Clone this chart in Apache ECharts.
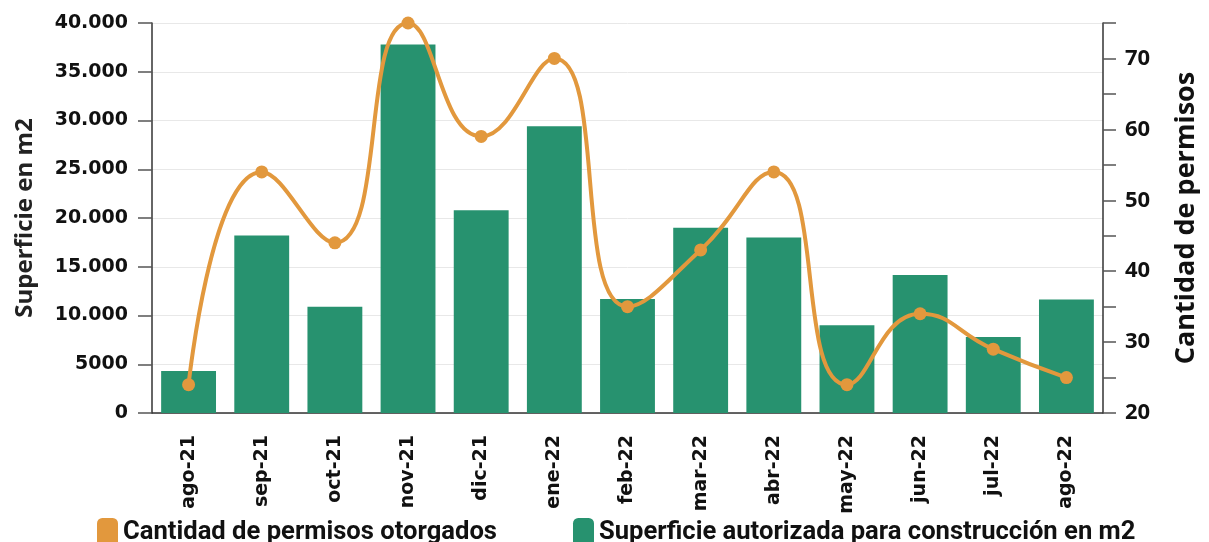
<!DOCTYPE html>
<html>
<head>
<meta charset="utf-8">
<script src="https://cdn.jsdelivr.net/npm/echarts@6/dist/echarts.min.js"></script>
<style>
html,body{margin:0;padding:0;background:#fff;}
#chart{width:1209px;height:542px;}
</style>
</head>
<body>
<div id="chart"></div>
<script>
const categories = ['ago-21','sep-21','oct-21','nov-21','dic-21','ene-22','feb-22','mar-22','abr-22','may-22','jun-22','jul-22','ago-22'];
const superficie = [4300, 18200, 10900, 37800, 20800, 29400, 11700, 19000, 18000, 9000, 14150, 7800, 11650];
const permisos = [24, 54, 44, 75, 59, 70, 35, 43, 54, 24, 34, 29, 25];
const seriesNames = ['Cantidad de permisos otorgados', 'Superficie autorizada para construcción en m2'];
const axisNames = ['Superficie en m2', 'Cantidad de permisos'];

const chart = echarts.init(document.getElementById('chart'), null, {renderer: 'canvas'});
const fmtLeft = v => v >= 10000 ? String(v).replace(/\B(?=(\d{3})+(?!\d))/g, '.') : String(v);

chart.setOption({
  animation: false,
  grid: {left: 152, right: 106, top: 23, bottom: 129, containLabel: false},
  legend: {
    top: 513, left: 92,
    itemGap: 76, itemTextGap: 9,
    itemWidth: 21, itemHeight: 30,
    icon: 'roundRect',
    textStyle: {fontFamily: 'Roboto', fontWeight: 'bold', fontSize: 25.6, color: '#111'},
    data: seriesNames
  },
  xAxis: {
    type: 'category',
    data: categories,
    axisLine: {lineStyle: {color: '#333', width: 1.5}},
    axisTick: {alignWithLabel: true, length: 12, lineStyle: {color: '#555', width: 1.5}},
    axisLabel: {rotate: 90, fontFamily: 'DejaVu Sans', fontWeight: 'bold', fontSize: 19, color: '#111', margin: 22}
  },
  yAxis: [
    {
      type: 'value', min: 0, max: 40000, interval: 5000,
      name: axisNames[0], nameLocation: 'middle', nameGap: 115, nameRotate: 90,
      nameTextStyle: {fontFamily: 'Open Sans', fontWeight: 'bold', fontSize: 24, color: '#222'},
      axisLine: {show: true, lineStyle: {color: '#333', width: 1.5}},
      axisTick: {show: true, length: 14, lineStyle: {color: '#555', width: 1.5}},
      axisLabel: {formatter: fmtLeft, fontFamily: 'DejaVu Sans', fontWeight: 'bold', fontSize: 19, color: '#111', margin: 24},
      splitLine: {show: true, lineStyle: {color: '#e8e8e8', width: 1}}
    },
    {
      type: 'value', min: 20, max: 75, interval: 5,
      name: axisNames[1], nameLocation: 'middle', nameGap: 70, nameRotate: 90,
      nameTextStyle: {fontFamily: 'Open Sans', fontWeight: 'bold', fontSize: 27, color: '#111'},
      position: 'right',
      axisLine: {show: true, lineStyle: {color: '#333', width: 1.5}},
      axisTick: {show: true, length: 13, lineStyle: {color: '#555', width: 1.5}},
      axisLabel: {formatter: v => (v % 10 === 0 ? String(v) : ''), fontFamily: 'Open Sans', fontWeight: 'bold', fontSize: 22, color: '#111', margin: 22},
      splitLine: {show: false}
    }
  ],
  series: [
    {
      name: seriesNames[0], type: 'line', yAxisIndex: 1, data: permisos,
      smooth: 0.5, symbol: 'circle', symbolSize: 13, z: 5,
      lineStyle: {color: '#E2983D', width: 4},
      itemStyle: {color: '#E2983D'}
    },
    {
      name: seriesNames[1], type: 'bar', yAxisIndex: 0, data: superficie,
      barCategoryGap: '25%',
      itemStyle: {color: '#27926F'}
    }
  ]
});
</script>
</body>
</html>
